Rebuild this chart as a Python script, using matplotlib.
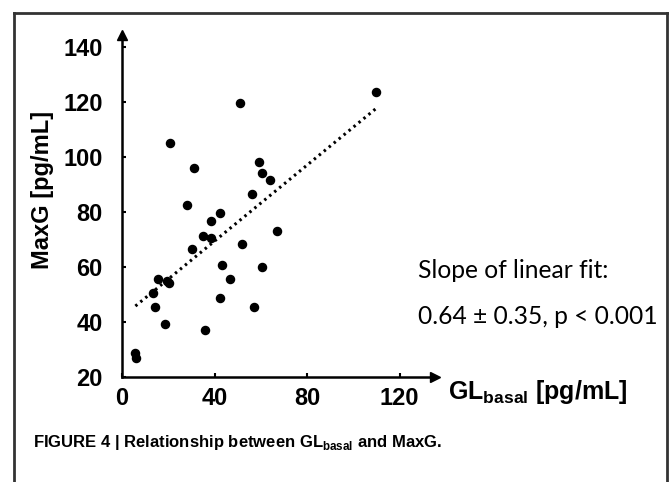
import numpy as np
import matplotlib.pyplot as plt
from matplotlib.lines import Line2D

# точки (GL_basal, MaxG)
gl_basal = [109.8, 51.0, 20.8, 31.1, 59.4, 60.4, 63.8, 56.2, 28.1, 42.4,
            38.6, 35.2, 38.3, 66.9, 52.1, 30.3, 43.1, 60.4, 15.7, 19.6,
            20.3, 46.6, 13.3, 14.2, 42.4, 56.9, 18.4, 36.0, 5.8, 6.2]
maxg = [123.5, 119.5, 105.0, 96.1, 98.2, 94.1, 91.8, 86.5, 82.4, 79.6,
        76.9, 71.2, 70.5, 73.0, 68.5, 66.4, 60.9, 60.0, 55.5, 54.9,
        54.3, 55.5, 50.7, 45.5, 48.7, 45.5, 39.2, 37.0, 28.9, 26.8]

# линия линейной аппроксимации (концы)
fit_x = [5.8, 109.8]
fit_y = [45.8, 117.6]

x_ticks = [0, 40, 80, 120]
y_ticks = [20, 40, 60, 80, 100, 120, 140]

plt.rcParams['font.family'] = ['Liberation Sans', 'DejaVu Sans']
plt.rcParams['mathtext.fontset'] = 'custom'
plt.rcParams['mathtext.bf'] = 'Liberation Sans:bold'
plt.rcParams['mathtext.rm'] = 'Liberation Sans'

W, H = 671, 482
fig = plt.figure(figsize=(W / 100, H / 100), dpi=100)

# рамка вокруг рисунка (левая, верхняя, правая стороны)
xl, xr, yt = 14 / W, 667 / W, 1 - 13 / H
for xs, ys in [([xl, xl], [0, yt]), ([xl, xr], [yt, yt]), ([xr, xr], [yt, 0])]:
    fig.add_artist(Line2D(xs, ys, transform=fig.transFigure,
                          color='#333333', lw=2.0, zorder=10))

ax = fig.add_axes([122 / W, (H - 377) / H, (435 - 122) / W, (377 - 35) / H])
ax.set_xlim(0, (435 - 122) / 2.3125)
ax.set_ylim(20, 20 + (377 - 35) / 2.75)

ax.scatter(gl_basal, maxg, s=34, color='black', zorder=3, clip_on=False)
ax.plot(fit_x, fit_y, color='black', lw=2.2, linestyle=(0, (0.8, 1.3)))

for s in ['top', 'right']:
    ax.spines[s].set_visible(False)
for s in ['left', 'bottom']:
    ax.spines[s].set_linewidth(1.8)

# стрелки на концах осей
ax.plot(1, 20, '>k', ms=7, transform=ax.get_yaxis_transform(), clip_on=False)
ax.plot(0, 1, '^k', ms=7, transform=ax.get_xaxis_transform(), clip_on=False)

ax.set_xticks(x_ticks)
ax.set_yticks(y_ticks)
ax.tick_params(axis='both', direction='in', length=3, width=1.5,
               labelsize=17)
ax.tick_params(axis='y', pad=14)
ax.tick_params(axis='x', pad=7)
for lab in ax.get_xticklabels() + ax.get_yticklabels():
    lab.set_fontweight('bold')

fig.text(43 / W, 1 - 190 / H, 'MaxG [pg/mL]', rotation=90, fontsize=17,
         fontweight='bold', ha='center', va='center')
fig.text(448 / W, 1 - 392 / H, r'$\mathbf{GL_{basal}}$ [pg/mL]',
         fontsize=18, fontweight='bold', ha='left', va='center')

fig.text(418 / W, 1 - 270 / H, 'Slope of linear fit:', fontsize=17.7,
         family='Lato', ha='left', va='center')
fig.text(418 / W, 1 - 316 / H, '0.64 ± 0.35, p < 0.001', fontsize=17.7,
         family='Lato', ha='left', va='center')

fig.text(33 / W, 1 - 442 / H,
         r'FIGURE 4 | Relationship between GL$_{\mathbf{basal}}$ and MaxG.',
         fontsize=12, fontweight='bold', ha='left', va='center')

fig.savefig('out.png', dpi=100)
